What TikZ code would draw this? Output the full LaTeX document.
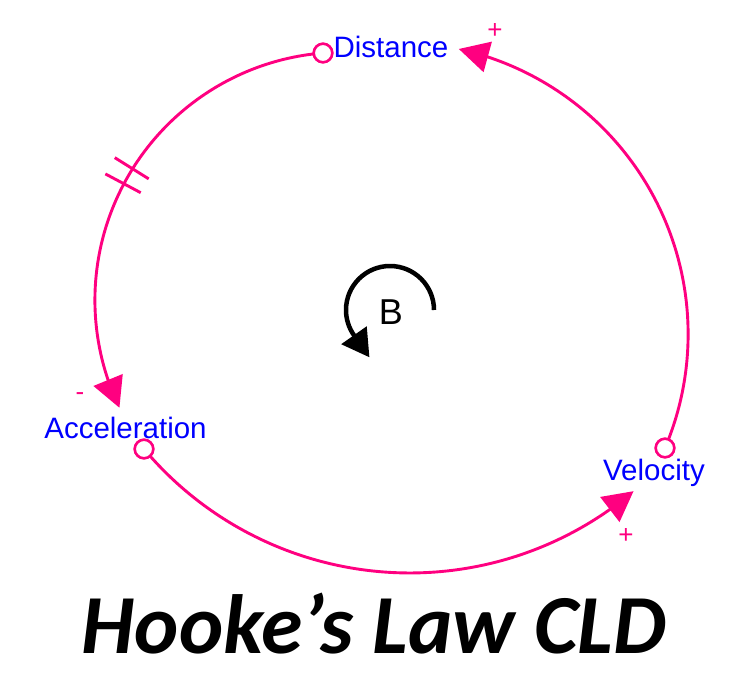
\documentclass[tikz,border=0pt]{standalone}
\usepackage{fontspec}
\setmainfont{Liberation Sans}
\newfontfamily\titlefont{Carlito}
\usetikzlibrary{arrows.meta,bending}
\definecolor{linkpink}{RGB}{255,0,128}
\definecolor{varblue}{RGB}{0,0,255}
\begin{document}
\begin{tikzpicture}[x=1pt,y=-1pt,
  link/.style={draw=linkpink, line width=2.9pt},
  linktip/.style={-{Triangle[length=30pt,width=31pt,flex]}, linkpink},
  origin/.style={circle, draw=linkpink, fill=white, line width=2.5pt, minimum size=18.5pt, inner sep=0pt},
  varname/.style={text=varblue, font=\fontsize{29.5}{32}\selectfont, anchor=base, inner sep=0pt},
  sign/.style={text=linkpink, font=\fontsize{26}{28}\selectfont, anchor=base, inner sep=0pt},
  loopline/.style={draw=black, line width=4.5pt},
]
\useasboundingbox (0,0) rectangle (734,673);
% variable names
\node[varname] (dist) at (391,57) {Distance};
\node[varname] (acc) at (125.5,438) {Acceleration};
\node[varname] (vel) at (654,480) {Velocity};
% link origins
\node[origin] (dC) at (323,53) {};
\node[origin] (aC) at (144,449) {};
\node[origin] (vC) at (665,448) {};
% centre of the left arc (for the delay marks)
\coordinate (lcen) at (342.9,300.2);
% links (circular arcs)
\draw[link, linktip] (vC) arc[start angle=22.95, end angle=-77.6, radius=292];
\draw[link, linktip] (dC) arc[start angle=-94.6, end angle=-205.7, radius=248];
\draw[link, linktip] (aC) arc[start angle=140, end angle=49.85, radius=347];
% origins on top
\node[origin] at (dC) {};
\node[origin] at (aC) {};
\node[origin] at (vC) {};
% delay marks
\draw[link] ([shift={(-148:229)}]lcen) -- ([shift={(-148:269)}]lcen);
\draw[link] ([shift={(-152:229)}]lcen) -- ([shift={(-152:269)}]lcen);
% polarity signs
\node[sign] (s1) at (495,38.7) {+};
\node[sign] (s2) at (626,543.7) {+};
\node[sign] (s3) at (80,400) {-};
% loop marker
\draw[loopline, -{Triangle[length=27pt,width=30pt]}] (434,310) arc[start angle=0, end angle=-215, radius=44] -- ++(15.5,22.1);
\node[font=\fontsize{36}{40}\selectfont, anchor=base, inner sep=0pt] (B) at (391,324) {B};
% title
\node[font=\titlefont\bfseries\itshape\fontsize{84}{90}\selectfont, anchor=base, inner sep=0pt] (title) at (374,653) {Hooke’s Law CLD};
\end{tikzpicture}
\end{document}
